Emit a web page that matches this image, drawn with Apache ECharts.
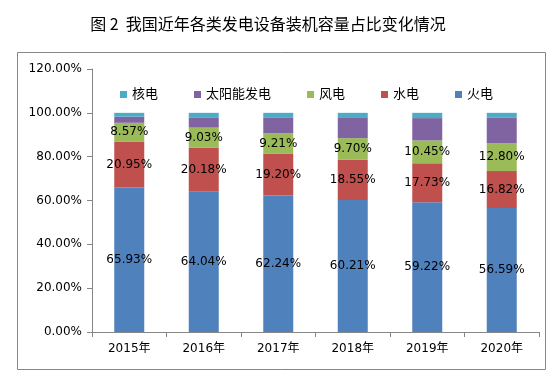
<!DOCTYPE html>
<html>
<head>
<meta charset="utf-8">
<script src="https://cdn.jsdelivr.net/npm/echarts@6/dist/echarts.min.js"></script>
<style>
    html, body {margin: 0; padding: 0; background: #fff;}
    #chart {width: 560px; height: 377px;}
</style>
</head>
<body>
<div id="chart"></div>
<script>
// 年份
let years = ['2015年', '2016年', '2017年', '2018年', '2019年', '2020年'];
// 各类装机占比（%）
let huodian = [65.93, 64.04, 62.24, 60.21, 59.22, 56.59];
let shuidian = [20.95, 20.18, 19.20, 18.55, 17.73, 16.82];
let fengdian = [8.57, 9.03, 9.21, 9.70, 10.45, 12.80];
let taiyang = [2.80, 4.70, 7.30, 9.20, 10.20, 11.50];
let hedian = [1.75, 2.05, 2.05, 2.34, 2.40, 2.29];
let legendNames = ['核电', '太阳能发电', '风电', '水电', '火电'];

let font = 'DejaVu Sans, Noto Sans CJK SC, sans-serif';
let axisColor = '#868686';

let makeSeries = (name, data, color, showLabel) => {
    return {
        name: name,
        type: 'bar',
        stack: 'total',
        barWidth: 30,
        data: data,
        itemStyle: {color: color},
        label: {
            show: showLabel,
            position: 'inside',
            color: '#000',
            fontFamily: font,
            fontSize: 12,
            formatter: (p) => p.value.toFixed(2) + '%'
        }
    };
};

let option = {
    animation: false,
    title: {
        text: '图 2  我国近年各类发电设备装机容量占比变化情况',
        left: 263,
        textAlign: 'center',
        top: 11,
        textStyle: {
            fontFamily: 'Noto Sans CJK SC, sans-serif',
            fontSize: 16,
            fontWeight: 'normal',
            color: '#000'
        }
    },
    legend: {
        data: legendNames,
        left: 115,
        top: 83,
        icon: 'rect',
        itemWidth: 7,
        itemHeight: 7,
        itemGap: 36,
        textStyle: {
            fontFamily: font,
            fontSize: 13,
            color: '#000'
        }
    },
    grid: {
        left: 92,
        right: 21,
        top: 69,
        bottom: 45
    },
    xAxis: {
        type: 'category',
        data: years,
        axisLine: {lineStyle: {color: axisColor}},
        axisTick: {show: true, length: 5, lineStyle: {color: axisColor}},
        axisLabel: {
            color: '#000',
            fontFamily: font,
            fontSize: 12,
            margin: 11
        }
    },
    yAxis: {
        type: 'value',
        min: 0,
        max: 120,
        interval: 20,
        axisLine: {show: true, lineStyle: {color: axisColor}},
        axisTick: {show: true, length: 5, lineStyle: {color: axisColor}},
        splitLine: {show: false},
        axisLabel: {
            color: '#000',
            fontFamily: font,
            fontSize: 12,
            margin: 10,
            formatter: (v) => v.toFixed(2) + '%'
        }
    },
    graphic: [{
        type: 'rect',
        shape: {x: 17.5, y: 52.5, width: 528, height: 317},
        style: {fill: 'none', stroke: axisColor, lineWidth: 1},
        silent: true
    }],
    series: [
        makeSeries('火电', huodian, '#4F81BD', true),
        makeSeries('水电', shuidian, '#C0504D', true),
        makeSeries('风电', fengdian, '#9BBB59', true),
        makeSeries('太阳能发电', taiyang, '#8064A2', false),
        makeSeries('核电', hedian, '#4BACC6', false)
    ]
};

let chart = echarts.init(document.getElementById('chart'));
chart.setOption(option);
</script>
</body>
</html>
